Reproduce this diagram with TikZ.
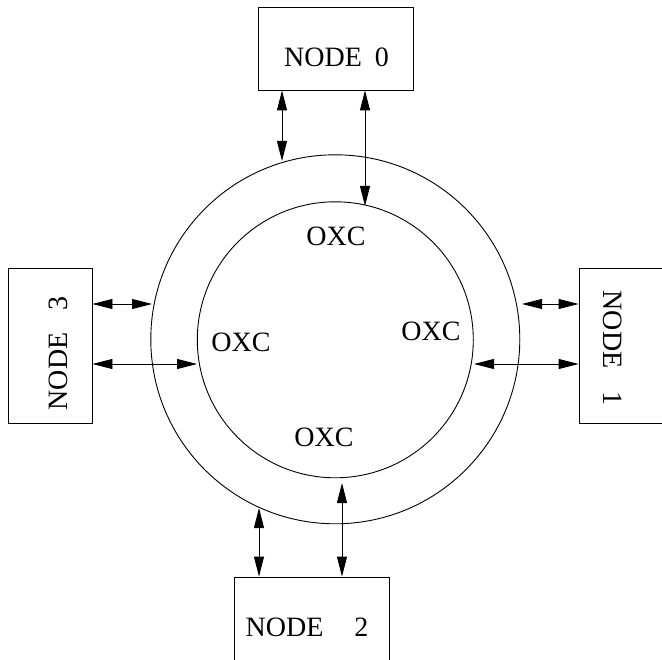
\documentclass[tikz,border=0pt]{standalone}
\usepackage{fontspec}
\setmainfont{Liberation Serif}
\usetikzlibrary{arrows.meta}
\tikzset{
  boxnode/.style={draw, line width=0.9pt, inner sep=0pt, rectangle},
  ringnode/.style={draw, line width=0.9pt, circle, inner sep=0pt},
  lbl/.style={inner sep=0pt, font=\fontsize{28}{30}\selectfont},
  biarr/.style={line width=0.9pt, {Triangle[length=20pt,width=10pt]}-{Triangle[length=20pt,width=10pt]}}
}
\begin{document}
\begin{tikzpicture}[x=1pt,y=-1pt]
\useasboundingbox (0,0) rectangle (662,660);
% rings
\node[ringnode, minimum size=369pt] (outer) at (335.3,339.3) {};
\node[ringnode, minimum size=276pt] (inner) at (335.3,339.8) {};
% boxes
\node[boxnode, minimum width=155pt, minimum height=83pt] (n0) at (335.5,48.5) {};
\node[boxnode, minimum width=84pt, minimum height=155pt] (n3) at (50,345.5) {};
\node[boxnode, minimum width=85pt, minimum height=155pt] (n1) at (621.5,345.5) {};
\node[boxnode, minimum width=155pt, minimum height=85pt] (n2) at (311.5,619.5) {};
% labels
\node[lbl] (t0) at (336.5,57) {NODE\hspace{13pt}0};
\node[lbl, rotate=90] (t3) at (58,353.5) {NODE\hspace{22pt}3};
\node[lbl, rotate=-90] (t1) at (612.5,348) {NODE\hspace{23pt}1};
\node[lbl] (t2) at (307,627.5) {NODE\hspace{31pt}2};
\node[lbl] (x0) at (336,236) {OXC};
\node[lbl] (x3) at (241,342) {OXC};
\node[lbl] (x1) at (431,331) {OXC};
\node[lbl] (x2) at (324,437) {OXC};
% connector ends
\coordinate (e0a) at (282,161);
\coordinate (e0b) at (365,206);
\coordinate (e3a) at (152,304);
\coordinate (e3b) at (197,364);
\coordinate (e1a) at (522,304);
\coordinate (e1b) at (474,364);
\coordinate (e2a) at (259,508);
\coordinate (e2b) at (342,483);
% connectors
\draw[biarr] (e0a |- n0.south) -- (e0a);
\draw[biarr] (e0b |- n0.south) -- (e0b);
\draw[biarr] (e3a -| n3.east) -- (e3a);
\draw[biarr] (e3b -| n3.east) -- (e3b);
\draw[biarr] (e1a -| n1.west) -- (e1a);
\draw[biarr] (e1b -| n1.west) -- (e1b);
\draw[biarr] (e2a |- n2.north) -- (e2a);
\draw[biarr] (e2b |- n2.north) -- (e2b);
\end{tikzpicture}
\end{document}
